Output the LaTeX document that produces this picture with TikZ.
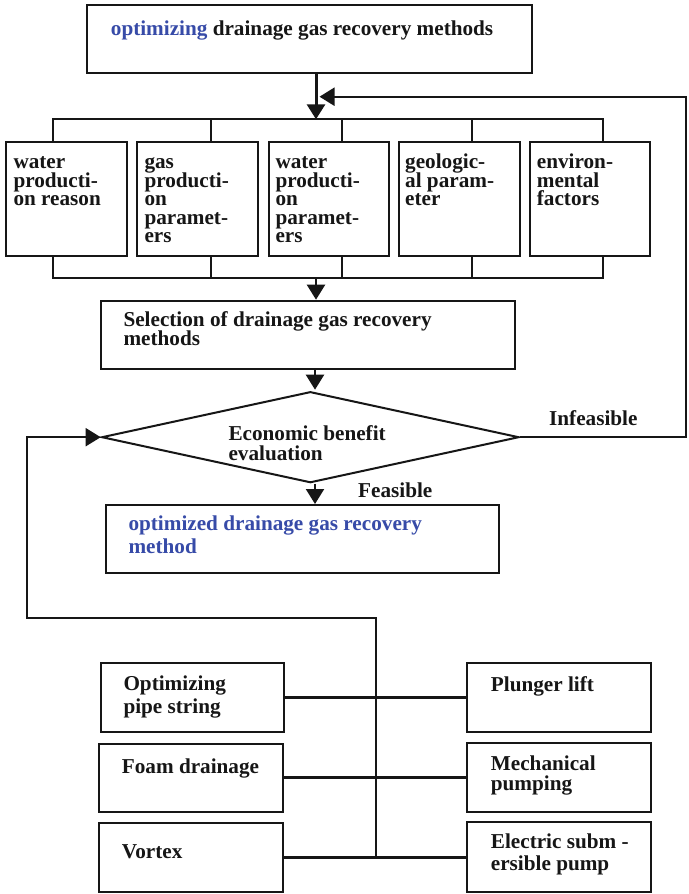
\documentclass[tikz,border=0pt]{standalone}
\usepackage{fontspec}
\setmainfont{Liberation Serif}
\usetikzlibrary{arrows.meta,shapes.geometric}
\definecolor{ink}{RGB}{22,22,22}
\definecolor{txtblue}{RGB}{55,75,168}
\newcommand\txtfont[1]{\fontsize{21.2}{#1}\selectfont\bfseries\lineskiplimit=-60pt\relax}
\begin{document}
\begin{tikzpicture}[x=1pt,y=-1pt,
  box/.style={draw=ink,line width=2pt,rectangle,inner sep=0pt,fill=white},
  dbox/.style={draw=ink,line width=2pt,diamond,inner sep=0pt,fill=white},
  lbl/.style={anchor=base west,inner sep=0pt,align=left,text=ink,font=\txtfont{#1}},
  lbl/.default={18.5},
  bus/.style={draw=ink,line width=2pt},
  arr/.style={draw=ink,line width=#1,-{Triangle[length=15pt,width=18pt]}},
  arr/.default={2pt},
  conn/.style={draw=ink,line width=3pt},
  thinl/.style={draw=ink,line width=1.8pt}
]
\useasboundingbox[fill=white] (0,0) rectangle (688,894);

% ---- boxes
\node[box,minimum width=445pt,minimum height=68pt] (top) at (309.5,39) {};
\node[box,minimum width=120.5pt,minimum height=113.4pt] (b1) at (66.35,199) {};
\node[box,minimum width=120.5pt,minimum height=113.4pt] (b2) at (197.5,199) {};
\node[box,minimum width=120.5pt,minimum height=113.4pt] (b3) at (328.85,199) {};
\node[box,minimum width=120.5pt,minimum height=113.4pt] (b4) at (459.5,199) {};
\node[box,minimum width=120.5pt,minimum height=113.4pt] (b5) at (590.2,199) {};
\node[box,minimum width=414pt,minimum height=68.6pt] (sel) at (307.7,335) {};
\node[dbox,minimum width=417.3pt,minimum height=91pt] (dia) at (310.35,437.2) {};
\node[box,minimum width=393pt,minimum height=68.3pt] (opt) at (302.5,539.15) {};
\node[box,minimum width=183.6pt,minimum height=68.4pt] (L1) at (192.5,697.5) {};
\node[box,minimum width=184pt,minimum height=67.7pt] (L2) at (190.7,777.85) {};
\node[box,minimum width=184pt,minimum height=69pt] (L3) at (190.7,857.2) {};
\node[box,minimum width=183.4pt,minimum height=68.4pt] (R1) at (559,697.5) {};
\node[box,minimum width=183.4pt,minimum height=68.4pt] (R2) at (559,777.5) {};
\node[box,minimum width=183.4pt,minimum height=69.4pt] (R3) at (559,857) {};

% ---- coordinates
\coordinate (tb1) at (53,119.3);
\coordinate (tb2) at (210.7,119.3);
\coordinate (tb3) at (342,119.3);
\coordinate (tb4) at (472.3,119.3);
\coordinate (tb5) at (603.3,119.3);
\coordinate (bb1) at (53,277.7);
\coordinate (bb2) at (210.7,277.7);
\coordinate (bb3) at (342,277.7);
\coordinate (bb4) at (472.3,277.7);
\coordinate (bb5) at (603.3,277.7);
\coordinate (tin) at (316,119.3);
\coordinate (bout) at (316,277.7);
\coordinate (ax) at (315,0);
\coordinate (rt) at (686,96.7);
\coordinate (rtip) at (319.5,96.7);
\coordinate (vb) at (376.3,857.3);
\coordinate (vt) at (376.3,618.3);
\coordinate (vl) at (26.7,618.3);

% ---- buses
\draw[bus] (b1.north -| tb1) -- (tb1) -- (tb5) -- (b5.north -| tb5);
\draw[bus] (tb2) -- (b2.north -| tb2);
\draw[bus] (tb3) -- (b3.north -| tb3);
\draw[bus] (tb4) -- (b4.north -| tb4);
\draw[bus] (b1.south -| bb1) -- (bb1) -- (bb5) -- (b5.south -| bb5);
\draw[bus] (bb2) -- (b2.south -| bb2);
\draw[bus] (bb3) -- (b3.south -| bb3);
\draw[bus] (bb4) -- (b4.south -| bb4);

% ---- arrows
\draw[arr=3pt] (top.south -| tin) -- (tin);
\draw[arr=2.2pt] (bout) -- (sel.north -| bout);
\draw[arr=2.2pt] (sel.south -| ax) -- ([yshift=1pt]dia.north -| ax);
\draw[arr=2.2pt] (dia.south -| ax) -- (opt.north -| ax);
\draw[arr=2.2pt] (dia.east) -| (rt) -- (rtip);

% ---- bottom connectors
\draw[conn] (L1.east) -- (L1.east -| R1.west);
\draw[conn] (L2.east) -- (L2.east -| R2.west);
\draw[conn] (L3.east) -- (L3.east -| R3.west);
\draw[arr=1.8pt] (vb) -- (vt) -- (vl) |- (dia.west);

% ---- texts (anchor = baseline of the last line)
\node[lbl] (t0) at (110.7,35) {\textcolor{txtblue}{optimizing} drainage gas recovery methods};
\node[lbl] (t1) at (13.3,205.5) {water\\producti-\\on reason};
\node[lbl] (t2) at (144.3,242.5) {gas\\producti-\\on\\paramet-\\ers};
\node[lbl] (t3) at (275.3,242.5) {water\\producti-\\on\\paramet-\\ers};
\node[lbl] (t4) at (405,205.5) {geologic-\\al param-\\eter};
\node[lbl] (t5) at (536.7,205.5) {environ-\\mental\\factors};
\node[lbl] (tsel) at (123.3,345.2) {Selection of drainage gas recovery\\methods};
\node[lbl=19.3] (tdia) at (228.3,460) {Economic benefit\\evaluation};
\node[lbl=22.7,text=txtblue] (topt) at (128.3,553.4) {optimized drainage gas recovery\\method};
\node[lbl] (tfeas) at (358,497.3) {Feasible};
\node[lbl] (tinf) at (549,425) {Infeasible};
\node[lbl=23.3] (tl1) at (123.3,713.3) {Optimizing\\pipe string};
\node[lbl] (tl2) at (121.7,773.3) {Foam drainage};
\node[lbl] (tl3) at (121.7,858.3) {Vortex};
\node[lbl] (tr1) at (490.7,691.7) {Plunger lift};
\node[lbl=20] (tr2) at (490.7,790) {Mechanical\\pumping};
\node[lbl=21.7] (tr3) at (490.7,870) {Electric subm -\\ersible pump};
\end{tikzpicture}
\end{document}
